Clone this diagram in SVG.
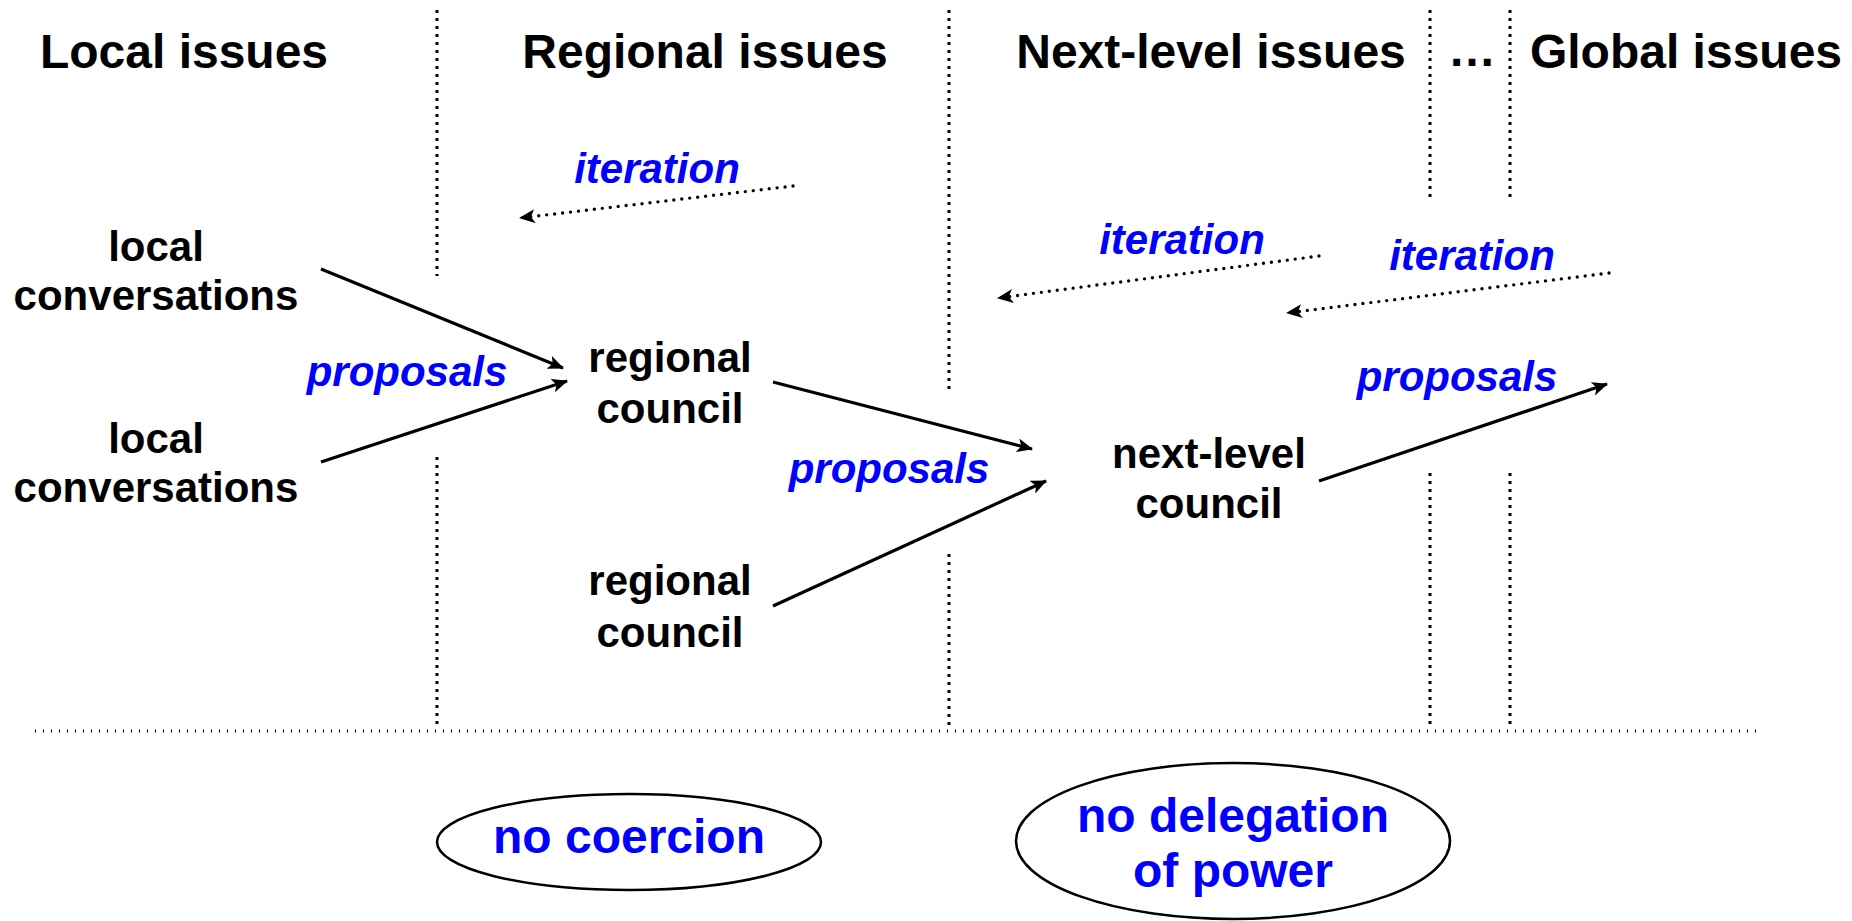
<svg xmlns="http://www.w3.org/2000/svg" width="1852" height="921" viewBox="0 0 1852 921">
<defs>
<style>
.hdr{font-family:"Liberation Sans",Arial,sans-serif;font-weight:bold;font-size:48px;fill:#000;text-anchor:middle}
.node{font-family:"Liberation Sans",Arial,sans-serif;font-weight:bold;font-size:42px;fill:#000;text-anchor:middle}
.lbl{font-family:"Liberation Sans",Arial,sans-serif;font-weight:bold;font-style:italic;font-size:42px;fill:#0000ff;text-anchor:middle}
.prin{font-family:"Liberation Sans",Arial,sans-serif;font-weight:bold;font-size:48px;fill:#0000ff;text-anchor:middle}
.vdiv{stroke:#000;stroke-width:3;stroke-dasharray:3 5;fill:none}
.hdiv{stroke:#000;stroke-width:3;stroke-dasharray:1 7;fill:none}
.solid{stroke:#000;stroke-width:3.2;fill:none;marker-end:url(#ah)}
.dotted{stroke:#000;stroke-width:3.4;stroke-linecap:round;stroke-dasharray:0 8;fill:none;marker-end:url(#ah)}
.ell{fill:#fff;stroke:#000;stroke-width:2.5}
</style>
<marker id="ah" markerUnits="userSpaceOnUse" markerWidth="18" markerHeight="16" refX="15" refY="7" orient="auto">
<path d="M0,0 L16,7 L0,14 L4,7 Z" fill="#000"/>
</marker>
</defs>
<rect width="1852" height="921" fill="#fff"/>

<g id="headers">
<text class="hdr" x="184" y="68">Local issues</text>
<text class="hdr" x="705" y="68">Regional issues</text>
<text class="hdr" x="1211" y="68">Next-level issues</text>
<text class="hdr" x="1472" y="66">…</text>
<text class="hdr" x="1686" y="68">Global issues</text>
</g>

<g id="dividers">
<line class="vdiv" x1="437" y1="10" x2="437" y2="276"/>
<line class="vdiv" x1="437" y1="457" x2="437" y2="726"/>
<line class="vdiv" x1="949" y1="10" x2="949" y2="389"/>
<line class="vdiv" x1="949" y1="554" x2="949" y2="726"/>
<line class="vdiv" x1="1430" y1="10" x2="1430" y2="197"/>
<line class="vdiv" x1="1430" y1="473" x2="1430" y2="726"/>
<line class="vdiv" x1="1510" y1="10" x2="1510" y2="197"/>
<line class="vdiv" x1="1510" y1="473" x2="1510" y2="726"/>
<line class="hdiv" x1="35" y1="731" x2="1762" y2="731"/>
</g>

<g id="connectors">
<line class="solid" x1="321" y1="269" x2="563" y2="368"/>
<line class="solid" x1="321" y1="462" x2="567" y2="381"/>
<line class="solid" x1="773" y1="382" x2="1032" y2="449"/>
<line class="solid" x1="773" y1="606" x2="1046" y2="481"/>
<line class="solid" x1="1319" y1="481" x2="1607" y2="384"/>
<line class="dotted" x1="793" y1="186" x2="520" y2="218"/>
<line class="dotted" x1="1319" y1="256" x2="998" y2="298"/>
<line class="dotted" x1="1609" y1="273" x2="1287" y2="313"/>
</g>

<g id="edge-labels">
<text class="lbl" x="657" y="183">iteration</text>
<text class="lbl" x="1182" y="254">iteration</text>
<text class="lbl" x="1472" y="270">iteration</text>
<text class="lbl" x="407" y="386">proposals</text>
<text class="lbl" x="889" y="483">proposals</text>
<text class="lbl" x="1457" y="391">proposals</text>
</g>

<g id="local1">
<text class="node" x="156" y="261">local</text>
<text class="node" x="156" y="310">conversations</text>
</g>
<g id="local2">
<text class="node" x="156" y="453">local</text>
<text class="node" x="156" y="502">conversations</text>
</g>
<g id="regional1">
<text class="node" x="670" y="372">regional</text>
<text class="node" x="670" y="423">council</text>
</g>
<g id="regional2">
<text class="node" x="670" y="595">regional</text>
<text class="node" x="670" y="647">council</text>
</g>
<g id="nextlevel">
<text class="node" x="1209" y="468">next-level</text>
<text class="node" x="1209" y="518">council</text>
</g>

<g id="no-coercion">
<ellipse class="ell" cx="629" cy="842" rx="192" ry="48"/>
<text class="prin" x="629" y="853">no coercion</text>
</g>
<g id="no-delegation">
<ellipse class="ell" cx="1233" cy="841" rx="217" ry="78"/>
<text class="prin" x="1233" y="832">no delegation</text>
<text class="prin" x="1233" y="887">of power</text>
</g>
</svg>
